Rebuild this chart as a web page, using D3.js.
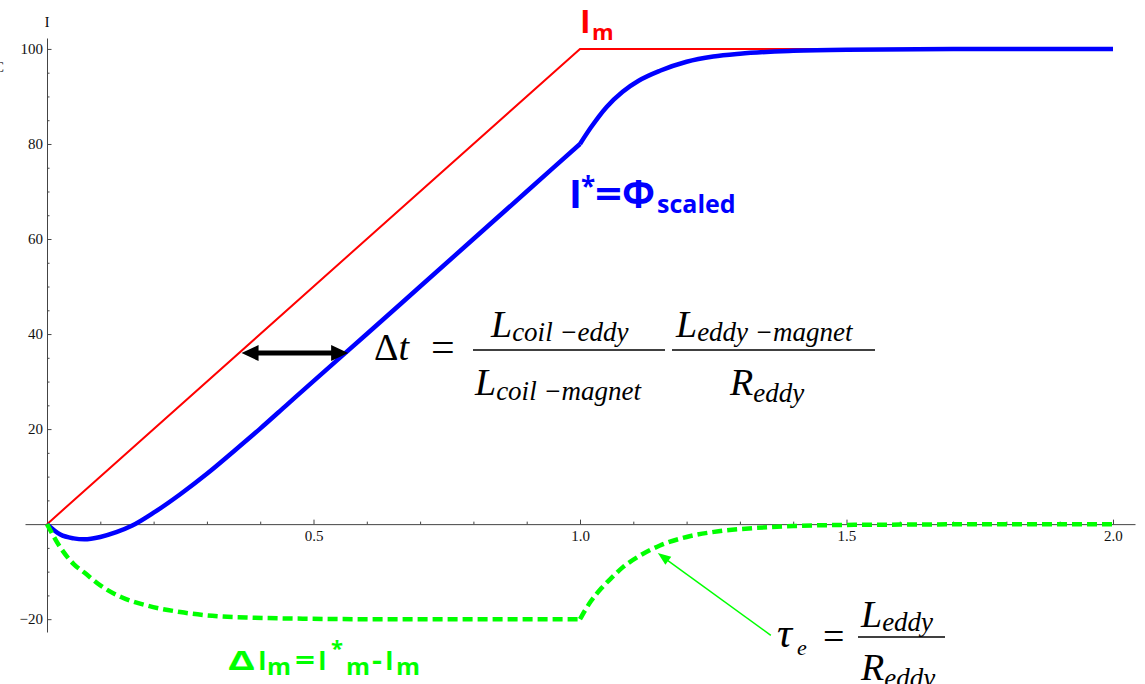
<!DOCTYPE html>
<html>
<head>
<meta charset="utf-8">
<script src="https://cdn.jsdelivr.net/npm/d3@7"></script>
<style>
  body { margin: 0; background: #fff; }
  svg { display: block; }
  .lbl { font-family: "Open Sans", "Noto Sans", sans-serif; font-weight: 700; }
  .eq { font-family: "Liberation Serif", "DejaVu Serif", serif; fill: #000; }
</style>
</head>
<body>
<div id="chart"></div>
<script>
// magnet current (ramp then flat)
const tMagnet = [0, 1, 2];
const iMagnet = [0, 100, 100];

// scaled flux I*
const tFlux = [0, 0.025, 0.05, 0.07, 0.1, 0.13, 0.16, 0.2, 0.25, 0.3, 0.35, 0.4, 0.45, 0.5,
               0.6, 0.7, 0.8, 0.9, 1.0, 1.02, 1.05, 1.08, 1.11, 1.15, 1.2, 1.25, 1.3, 1.4, 1.5, 1.7, 2.0];
const iFlux = [0, -2.2, -3.0, -3.2, -2.7, -1.7, -0.3, 2.4, 6.3, 10.6, 15.3, 20.1, 25.1, 30.1,
               40.0, 50.0, 60.0, 70.0, 80.0, 83.4, 87.8, 91.0, 93.3, 95.4, 97.3, 98.4, 99.0, 99.6, 99.85, 100, 100];

// difference dI = I* - Im
const tDiff = [0, 0.025, 0.05, 0.07, 0.1, 0.14, 0.19, 0.25, 0.31, 0.39, 0.48, 0.6, 0.8, 1.0,
               1.02, 1.04, 1.06, 1.08, 1.11, 1.15, 1.2, 1.26, 1.33, 1.4, 1.47, 1.6, 1.8, 2.0];
const iDiff = [0, -4.9, -8.4, -10.2, -12.9, -15.4, -17.2, -18.5, -19.3, -19.7, -19.9, -20, -20, -20,
               -16.3, -13.5, -11.2, -9.1, -6.8, -4.5, -2.7, -1.5, -0.8, -0.4, -0.2, -0.1, 0, 0];

const xMajor = [0.5, 1.0, 1.5, 2.0];
const xMinor = [0.1, 0.2, 0.3, 0.4, 0.6, 0.7, 0.8, 0.9, 1.1, 1.2, 1.3, 1.4, 1.6, 1.7, 1.8, 1.9];
const yMajor = [-20, 20, 40, 60, 80, 100];
const yMinor = [-15, -10, -5, 5, 10, 15, 25, 30, 35, 45, 50, 55, 65, 70, 75, 85, 90, 95];

// annotation arrows in data units
const delayArrow = { y: 36, from: 0.365, to: 0.565 };
const tauArrow = { from: [1.358, -23.4], to: [1.146, -6.1] };

const width = 1145, height = 684;

const svg = d3.select("#chart").append("svg")
    .attr("width", width)
    .attr("height", height);

const x = d3.scaleLinear().domain([-0.0413, 2.0413]).range([25, 1135]);
const y = d3.scaleLinear().domain([-22.7, 102.3]).range([632, 38]);

const axisColor = "#444";

// x axis: minor ticks, then major ticks with labels
const gx = svg.append("g").attr("transform", `translate(0,${y(0)})`);
gx.append("g")
    .call(d3.axisBottom(x).tickValues(xMinor).tickSizeInner(-2.5).tickSizeOuter(0).tickFormat(""))
    .call(g => g.select(".domain").remove());
gx.append("g")
    .call(d3.axisBottom(x).tickValues(xMajor).tickSizeInner(-4.5).tickSizeOuter(0)
        .tickPadding(6).tickFormat(d3.format(".1f")));

const gy = svg.append("g").attr("transform", `translate(${x(0)},0)`);
gy.append("g")
    .call(d3.axisLeft(y).tickValues(yMinor).tickSizeInner(-2.5).tickSizeOuter(0).tickFormat(""))
    .call(g => g.select(".domain").remove());
gy.append("g")
    .call(d3.axisLeft(y).tickValues(yMajor).tickSizeInner(-4.5).tickSizeOuter(0)
        .tickPadding(4).tickFormat(d3.format("d")));

svg.selectAll(".domain, .tick line").attr("stroke", axisColor);
svg.selectAll(".tick text")
    .style("font-family", "'Liberation Serif', 'DejaVu Serif', serif")
    .style("font-size", "15px")
    .attr("fill", "#111");

// axis labels
svg.append("text").attr("class", "eq")
    .attr("x", x(0)).attr("y", 27).attr("text-anchor", "middle")
    .style("font-size", "14px").text("I");
svg.append("text").attr("class", "eq")
    .attr("x", -6).attr("y", 72)
    .style("font-size", "15px").text("C");

const line = d3.line()
    .x(d => x(d[0]))
    .y(d => y(d[1]))
    .curve(d3.curveMonotoneX);

// ramp and decay parts drawn as separate pieces so the corner at t = 1 stays sharp
const piecewise = (ts, vs) => {
    const pts = d3.zip(ts, vs);
    return line(pts.filter(d => d[0] <= 1)) + line(pts.filter(d => d[0] >= 1));
};

svg.append("path")
    .datum(d3.zip(tMagnet, iMagnet))
    .attr("fill", "none")
    .attr("stroke", "#ff0000")
    .attr("stroke-width", 2)
    .attr("d", d3.line().x(d => x(d[0])).y(d => y(d[1])));

svg.append("path")
    .attr("fill", "none")
    .attr("stroke", "#0000ff")
    .attr("stroke-width", 4.5)
    .attr("stroke-linejoin", "round")
    .attr("d", piecewise(tFlux, iFlux));

svg.append("path")
    .attr("fill", "none")
    .attr("stroke", "#00ff00")
    .attr("stroke-width", 4.5)
    .attr("stroke-dasharray", "10,5")
    .attr("d", piecewise(tDiff, iDiff));

// filled triangular arrow head pointing at (x2, y2)
const head = (x1, y1, x2, y2, len, half) => {
    const a = Math.atan2(y2 - y1, x2 - x1);
    const bx = x2 - len * Math.cos(a), by = y2 - len * Math.sin(a);
    const px = -Math.sin(a) * half, py = Math.cos(a) * half;
    return `M${x2},${y2}L${bx + px},${by + py}L${bx - px},${by - py}Z`;
};

// delay arrow
const ax1 = x(delayArrow.from), ax2 = x(delayArrow.to), ay = y(delayArrow.y);
svg.append("line")
    .attr("x1", ax1 + 12).attr("x2", ax2 - 12).attr("y1", ay).attr("y2", ay)
    .attr("stroke", "#000").attr("stroke-width", 5);
svg.append("path").attr("d", head(ax2, ay, ax1, ay, 17, 8)).attr("fill", "#000");
svg.append("path").attr("d", head(ax1, ay, ax2, ay, 17, 8)).attr("fill", "#000");

// tau arrow
const tx1 = x(tauArrow.from[0]), ty1 = y(tauArrow.from[1]);
const tx2 = x(tauArrow.to[0]), ty2 = y(tauArrow.to[1]);
svg.append("line")
    .attr("x1", tx1).attr("y1", ty1).attr("x2", tx2 + 8).attr("y2", ty2 + 6)
    .attr("stroke", "#00ff00").attr("stroke-width", 1.5);
svg.append("path").attr("d", head(tx1, ty1, tx2, ty2, 13, 5)).attr("fill", "#00ff00");

// curve labels, pieces placed one by one; optional w stretches a glyph to the reference width
const label = (color, parts) => {
    parts.forEach(([str, px, py, size, w]) => {
        const t = svg.append("text").attr("class", "lbl").attr("fill", color)
            .attr("x", px).attr("y", py).style("font-size", size + "px").text(str);
        if (w) t.attr("textLength", w).attr("lengthAdjust", "spacingAndGlyphs");
    });
};

label("#ff0000", [["I", 580, 33, 32], ["m", 592, 40, 22]]);
label("#0000ff", [["I", 569, 208, 39], ["*", 581, 196, 26], ["=", 595, 208, 39, 27],
                  ["Φ", 622, 208, 39, 33], ["scaled", 657, 213, 25]]);
label("#00ff00", [["Δ", 228, 670, 26, 27], ["I", 258, 670, 26], ["m", 267, 675, 24, 24],
                  ["=", 295, 670, 26, 20], ["I", 318, 670, 26], ["*", 331, 656, 22],
                  ["m", 346, 675, 24, 24], ["-", 372, 670, 26, 10], ["I", 385, 670, 26],
                  ["m", 396, 675, 24, 24]]);

// delay formula
const addTerm = (x0, base, main, subText, subShift) => {
    const t = svg.append("text").attr("class", "eq").attr("x", x0).attr("font-style", "italic");
    t.append("tspan").attr("y", base).style("font-size", "38px").text(main);
    t.append("tspan").attr("y", base + subShift).style("font-size", "27px").text(subText);
};
const dt = svg.append("text").attr("class", "eq").attr("y", 360).style("font-size", "38px");
dt.append("tspan").attr("x", 374).text("Δ");
dt.append("tspan").attr("font-style", "italic").text("t");
svg.append("text").attr("class", "eq").attr("x", 431).attr("y", 361)
    .style("font-size", "42px").text("=");
svg.append("line").attr("x1", 473).attr("x2", 665).attr("y1", 350).attr("y2", 350)
    .attr("stroke", "#000").attr("stroke-width", 1.3);
svg.append("line").attr("x1", 672).attr("x2", 875).attr("y1", 350).attr("y2", 350)
    .attr("stroke", "#000").attr("stroke-width", 1.3);
addTerm(491, 337, "L", "coil −eddy", 4);
addTerm(676, 337, "L", "eddy −magnet", 4);
addTerm(475, 395, "L", "coil −magnet", 5);
addTerm(730, 395, "R", "eddy", 7);

// eddy time constant formula
const tau = svg.append("text").attr("class", "eq").attr("font-style", "italic");
tau.append("tspan").attr("x", 777).attr("y", 647).style("font-size", "42px").text("τ");
tau.append("tspan").attr("x", 797).attr("y", 655).style("font-size", "22px").text("e");
svg.append("text").attr("class", "eq").attr("x", 823).attr("y", 649)
    .style("font-size", "38px").text("=");
svg.append("line").attr("x1", 858).attr("x2", 945).attr("y1", 637).attr("y2", 637)
    .attr("stroke", "#000").attr("stroke-width", 1.3);
addTerm(861, 627, "L", "eddy", 4);
addTerm(861, 680, "R", "eddy", 7);
</script>
</body>
</html>
